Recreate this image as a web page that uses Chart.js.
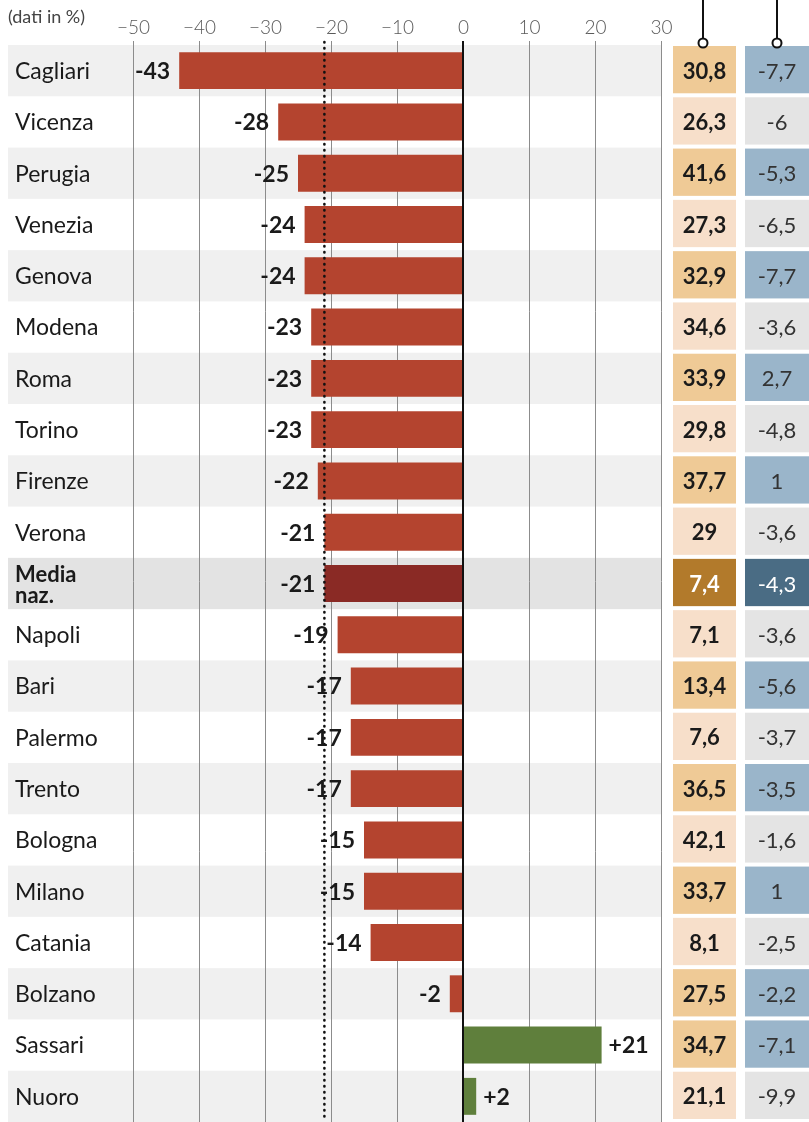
<!DOCTYPE html>
<html><head><meta charset="utf-8">
<script src="https://cdn.jsdelivr.net/npm/chart.js@4/dist/chart.umd.min.js"></script>
<style>html,body{margin:0;padding:0;background:#fff;} canvas{display:block;}</style>
</head><body>
<canvas id="c" width="809" height="1122"></canvas>
<script>
const categories = ['Cagliari','Vicenza','Perugia','Venezia','Genova','Modena','Roma','Torino','Firenze','Verona','Media naz.','Napoli','Bari','Palermo','Trento','Bologna','Milano','Catania','Bolzano','Sassari','Nuoro'];
const changePct = [-43,-28,-25,-24,-24,-23,-23,-23,-22,-21,-21,-19,-17,-17,-17,-15,-15,-14,-2,21,2];
const valueA = [30.8,26.3,41.6,27.3,32.9,34.6,33.9,29.8,37.7,29,7.4,7.1,13.4,7.6,36.5,42.1,33.7,8.1,27.5,34.7,21.1];
const valueB = [-7.7,-6,-5.3,-6.5,-7.7,-3.6,2.7,-4.8,1,-3.6,-4.3,-3.6,-5.6,-3.7,-3.5,-1.6,1,-2.5,-2.2,-7.1,-9.9];
const cellTone = [1,0,1,0,1,0,1,0,1,0,2,0,1,0,1,0,1,0,1,1,0];
const xTicks = [-50,-40,-30,-20,-10,0,10,20,30];
const averageValue = -21;
const averageLabel = 'Media naz.';
const unitNote = '(dati in %)';

const FONT = 'Lato, "Open Sans", sans-serif';
const fmtComma = v => String(v).replace('.', ',');
const fmtSigned = v => (v > 0 ? '+' : '') + v;
const avgIdx = categories.indexOf(averageLabel);

const barColors = changePct.map((v, i) => i === avgIdx ? '#8a2a25' : (v < 0 ? '#b4442f' : '#5f7f3c'));

function rowGeom(chart, i) {
  const y = chart.scales.y;
  const yc = y.getPixelForValue(i);
  const h = (y.bottom - y.top) / categories.length;
  return { yc, top: yc - h / 2, h };
}

const deco = {
  id: 'deco',
  beforeDraw(chart) {
    const ctx = chart.ctx, xs = chart.scales.x;
    ctx.save();
    ctx.fillStyle = '#fff';
    ctx.fillRect(0, 0, chart.width, chart.height);
    categories.forEach((c, i) => {
      const g = rowGeom(chart, i);
      if (i === avgIdx) ctx.fillStyle = '#e3e3e3';
      else if (i % 2 === 0) ctx.fillStyle = '#f0f0f0';
      else return;
      ctx.fillRect(8, g.top, xs.right - 8, g.h);
    });
    ctx.restore();
  },
  beforeDatasetsDraw(chart) {
    const ctx = chart.ctx, xs = chart.scales.x;
    ctx.save();
    ctx.strokeStyle = '#8c8c8c';
    ctx.lineWidth = 1;
    ctx.font = '300 19px ' + FONT;
    ctx.fillStyle = '#5a5a5a';
    ctx.textAlign = 'center';
    ctx.textBaseline = 'middle';
    xTicks.forEach(t => {
      const px = Math.round(xs.getPixelForValue(t)) + 0.5;
      if (t !== 0) {
        ctx.beginPath(); ctx.moveTo(px, 41); ctx.lineTo(px, chart.height); ctx.stroke();
      }
      ctx.fillText(t < 0 ? '\u2212' + Math.abs(t) : String(t), px, 28);
    });
    ctx.font = '18px ' + FONT;
    ctx.fillStyle = '#444';
    ctx.textAlign = 'left';
    ctx.fillText(unitNote, 8, 17);
    ctx.restore();
  },
  afterDatasetsDraw(chart) {
    const ctx = chart.ctx, xs = chart.scales.x;
    const meta = chart.getDatasetMeta(0);
    ctx.save();
    const x0 = xs.getPixelForValue(0);
    ctx.strokeStyle = '#111'; ctx.lineWidth = 2;
    ctx.beginPath(); ctx.moveTo(x0, 41); ctx.lineTo(x0, chart.height); ctx.stroke();
    const xa = xs.getPixelForValue(averageValue);
    ctx.setLineDash([0.5, 5.5]); ctx.lineCap = 'round'; ctx.lineWidth = 2.6;
    ctx.beginPath(); ctx.moveTo(xa, 42); ctx.lineTo(xa, chart.height); ctx.stroke();
    ctx.setLineDash([]); ctx.lineCap = 'butt';
    ctx.textBaseline = 'middle';
    categories.forEach((c, i) => {
      const g = rowGeom(chart, i);
      const bar = meta.data[i];
      const v = changePct[i];
      ctx.fillStyle = '#1a1a1a';
      ctx.font = 'bold 23px ' + FONT;
      if (v < 0) { ctx.textAlign = 'right'; ctx.fillText(fmtSigned(v), bar.x - 9, g.yc + 1); }
      else { ctx.textAlign = 'left'; ctx.fillText(fmtSigned(v), bar.x + 7, g.yc + 1); }
      ctx.textAlign = 'left';
      if (i === avgIdx) {
        ctx.font = 'bold 22px ' + FONT;
        const parts = c.split(' ');
        ctx.fillText(parts[0], 15, g.yc - 9);
        ctx.fillText(parts[1], 15, g.yc + 12);
      } else {
        ctx.font = '23px ' + FONT;
        ctx.fillText(c, 15, g.yc + 1);
      }
      const cTop = g.top + 1, cH = g.h - 4;
      const tone = cellTone[i];
      ctx.fillStyle = tone === 2 ? '#b27a2b' : (tone === 1 ? '#efca96' : '#f7dfca');
      ctx.fillRect(673, cTop, 63, cH);
      ctx.fillStyle = tone === 2 ? '#4a6c84' : (tone === 1 ? '#9ab5ca' : '#e4e4e4');
      ctx.fillRect(745, cTop, 64, cH);
      ctx.textAlign = 'center';
      ctx.font = 'bold 22px ' + FONT;
      ctx.fillStyle = tone === 2 ? '#fff' : '#1a1a1a';
      ctx.fillText(fmtComma(valueA[i]), 704.5, g.yc + 1);
      ctx.font = '22px ' + FONT;
      ctx.fillStyle = tone === 2 ? '#fff' : '#333';
      ctx.fillText(fmtComma(valueB[i]), 777, g.yc + 1);
    });
    ctx.strokeStyle = '#111'; ctx.lineWidth = 2; ctx.fillStyle = '#fff';
    [703, 777].forEach(cx => {
      ctx.beginPath(); ctx.moveTo(cx, 0); ctx.lineTo(cx, 38); ctx.stroke();
      ctx.beginPath(); ctx.arc(cx, 43, 4.5, 0, Math.PI * 2); ctx.fill(); ctx.stroke();
    });
    ctx.restore();
  }
};

new Chart(document.getElementById('c'), {
  type: 'bar',
  data: {
    labels: categories,
    datasets: [{ data: changePct, backgroundColor: barColors, borderWidth: 0, barPercentage: 0.72, categoryPercentage: 1 }]
  },
  options: {
    indexAxis: 'y',
    responsive: false,
    animation: false,
    devicePixelRatio: 1,
    layout: { padding: { left: 133, right: 148, top: 45, bottom: 0 } },
    plugins: { legend: { display: false }, tooltip: { enabled: false } },
    scales: {
      x: { display: false, min: -50, max: 30 },
      y: { display: false }
    }
  },
  plugins: [deco]
});
</script>
</body></html>
